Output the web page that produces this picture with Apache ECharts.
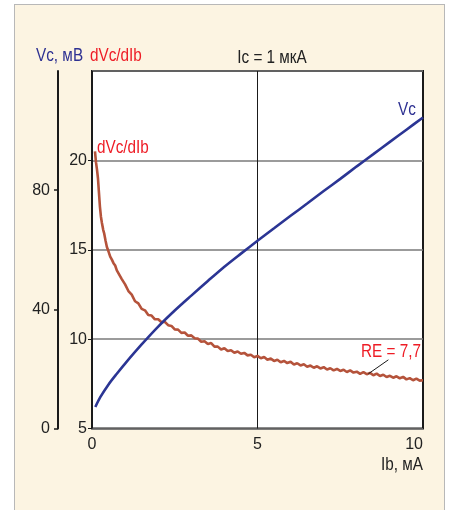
<!DOCTYPE html>
<html>
<head>
<meta charset="utf-8">
<script src="https://cdn.jsdelivr.net/npm/echarts@6/dist/echarts.min.js"></script>
<style>
  html, body { margin: 0; padding: 0; background: #ffffff; }
  #panel {
    position: absolute; left: 14px; top: 4px; width: 431px; height: 520px;
    background: #fcf4e2; border: 1px solid #b8b8b8; box-sizing: border-box;
  }
  #chart { position: absolute; left: 0; top: 0; width: 449px; height: 510px; }
</style>
</head>
<body>
<div id="panel"></div>
<div id="chart"></div>
<script>
// Collector voltage Vc (mV) versus base current Ib (mA), Ic = 1 µA
const ibVc = [0.1, 0.25, 0.5, 0.75, 1.0, 1.5, 2.0, 2.5, 3.0, 3.5, 4.0, 4.5, 5.0,
              5.5, 6.0, 6.5, 7.0, 7.5, 8.0, 8.5, 9.0, 9.5, 10.0];
const vc = [7.2, 10.5, 14.8, 18.4, 21.8, 28.2, 34.2, 39.6, 44.6, 49.5, 54.3, 58.7, 63.0,
            67.2, 71.4, 75.5, 79.7, 83.8, 88.0, 92.1, 96.2, 100.3, 104.4];

// Differential resistance dVc/dIb (measured, noisy trace)
const ibDiff = [0.09, 0.12, 0.15, 0.18, 0.21, 0.24, 0.27, 0.30, 0.34, 0.37, 0.41, 0.45,
  0.50, 0.55, 0.60, 0.65, 0.70, 0.75,
  0.8, 0.9, 1.0, 1.1, 1.2, 1.3, 1.4, 1.5, 1.6, 1.7, 1.8, 1.9,
  2.0, 2.1, 2.2, 2.3, 2.4, 2.5, 2.6, 2.7, 2.8, 2.9,
  3.0, 3.1, 3.2, 3.3, 3.4, 3.5, 3.6, 3.7, 3.8, 3.9,
  4.0, 4.1, 4.2, 4.3, 4.4, 4.5, 4.6, 4.7, 4.8, 4.9,
  5.0, 5.1, 5.2, 5.3, 5.4, 5.5, 5.6, 5.7, 5.8, 5.9,
  6.0, 6.1, 6.2, 6.3, 6.4, 6.5, 6.6, 6.7, 6.8, 6.9,
  7.0, 7.1, 7.2, 7.3, 7.4, 7.5, 7.6, 7.7, 7.8, 7.9,
  8.0, 8.1, 8.2, 8.3, 8.4, 8.5, 8.6, 8.7, 8.8, 8.9,
  9.0, 9.1, 9.2, 9.3, 9.4, 9.5, 9.6, 9.7, 9.8, 9.9, 10.0];
const dVcdIb = [20.5, 19.9, 19.5, 19.0, 18.2, 17.4, 16.85, 16.5, 16.1, 15.9, 15.5, 15.15,
  14.9, 14.62, 14.45, 14.25, 14.12, 13.85,
  13.75, 13.36, 13.06, 12.69, 12.49, 12.12, 12.0, 11.69, 11.61, 11.35, 11.32, 11.11,
  11.11, 10.94, 10.97, 10.78, 10.74, 10.54, 10.53, 10.35, 10.37, 10.19,
  10.21, 10.05, 10.03, 9.85, 9.88, 9.73, 9.78, 9.58, 9.58, 9.42,
  9.49, 9.34, 9.38, 9.24, 9.31, 9.18, 9.23, 9.09, 9.13, 8.99,
  9.06, 8.93, 9.0, 8.85, 8.91, 8.78, 8.85, 8.71, 8.78, 8.66,
  8.73, 8.58, 8.65, 8.53, 8.59, 8.45, 8.52, 8.40, 8.48, 8.36,
  8.43, 8.30, 8.37, 8.25, 8.33, 8.22, 8.29, 8.16, 8.25, 8.13,
  8.18, 8.06, 8.15, 8.04, 8.11, 7.98, 8.07, 7.94, 8.01, 7.88,
  7.95, 7.84, 7.92, 7.81, 7.89, 7.75, 7.82, 7.70, 7.79, 7.68, 7.70];

const reValue = 7.7;            // RE at the end of the range
const reLabelAt = [8.35, 8.06]; // point on the trace the RE note points to

const FONT = "'Liberation Sans', Arial, sans-serif";
const BLUE = '#2e3192';
const RED = '#ee1c25';
const TRACE_RED = '#b5533b';
const TRACE_BLUE = '#2b3594';
const NARROW = 0.85; // horizontal squeeze for the condensed captions

const chart = echarts.init(document.getElementById('chart'), null, { renderer: 'canvas' });

function pairs(xs, ys) { return xs.map((x, i) => [x, ys[i]]); }

const option = {
  animation: false,
  backgroundColor: 'transparent',
  grid: {
    left: 92, right: 26, top: 71, bottom: 81.5,
    show: true, backgroundColor: '#ffffff', borderColor: '#1a1a1a', borderWidth: 2
  },
  xAxis: {
    type: 'value', min: 0, max: 10, interval: 5,
    axisLine: { show: false },
    axisTick: { show: false },
    splitLine: { show: true, lineStyle: { color: '#1a1a1a', width: 1 } },
    axisLabel: {
      color: '#222', fontFamily: FONT, fontSize: 16, margin: 8,
      alignMaxLabel: 'right'
    }
  },
  yAxis: [
    {
      type: 'value', min: 5, max: 25, interval: 5, position: 'left',
      axisLine: { show: false },
      axisTick: { show: true, length: 4, lineStyle: { color: '#1a1a1a', width: 1 } },
      splitLine: { show: true, lineStyle: { color: '#7a7a7a', width: 1.5 } },
      axisLabel: {
        color: '#222', fontFamily: FONT, fontSize: 16, margin: 5,
        showMaxLabel: false, padding: [0, 0, 6, 0]
      }
    },
    {
      type: 'value', min: 0, max: 120, interval: 40, position: 'left', offset: 34,
      axisLine: { show: true, lineStyle: { color: '#1a1a1a', width: 2 } },
      axisTick: { show: true, length: 4, lineStyle: { color: '#1a1a1a', width: 1.5 } },
      splitLine: { show: false },
      axisLabel: {
        color: '#222', fontFamily: FONT, fontSize: 16, margin: 8,
        showMaxLabel: false, padding: [0, 0, 2, 0]
      }
    }
  ],
  series: [
    {
      name: 'dVc/dIb', type: 'line', yAxisIndex: 0, showSymbol: false, symbol: 'none',
      data: pairs(ibDiff, dVcdIb),
      lineStyle: { color: TRACE_RED, width: 2.6 }
    },
    {
      name: 'Vc', type: 'line', yAxisIndex: 1, showSymbol: false, symbol: 'none',
      smooth: 0.3,
      data: pairs(ibVc, vc),
      lineStyle: { color: TRACE_BLUE, width: 2.6 }
    }
  ]
};
chart.setOption(option);

// Captions and axis names, condensed horizontally
function txt(text, x, y, color, align) {
  return {
    type: 'text', silent: true, z: 10,
    x: x, y: y, scaleX: NARROW,
    style: {
      text: text, x: 0, y: 0, fill: color, font: '18px ' + FONT,
      textAlign: align || 'left', textVerticalAlign: 'bottom'
    }
  };
}
const end = chart.convertToPixel({ xAxisIndex: 0, yAxisIndex: 0 }, reLabelAt);
chart.setOption({
  graphic: [
    txt('Vc, мВ', 36, 65, BLUE),
    txt('dVc/dIb', 90, 65, RED),
    txt('Ic = 1 мкА', 272, 67, '#222', 'center'),
    txt('dVc/dIb', 97, 157, RED),
    txt('Vc', 398, 119, BLUE),
    txt('RE = ' + String(reValue).replace('.', ','), 361, 361, RED),
    txt('Ib, мА', 423, 474, '#222', 'right'),
    {
      type: 'line', silent: true, z: 10,
      shape: { x1: end[0] + 20, y1: end[1] - 14, x2: end[0], y2: end[1] },
      style: { stroke: '#1a1a1a', lineWidth: 1 }
    }
  ]
});
</script>
</body>
</html>
